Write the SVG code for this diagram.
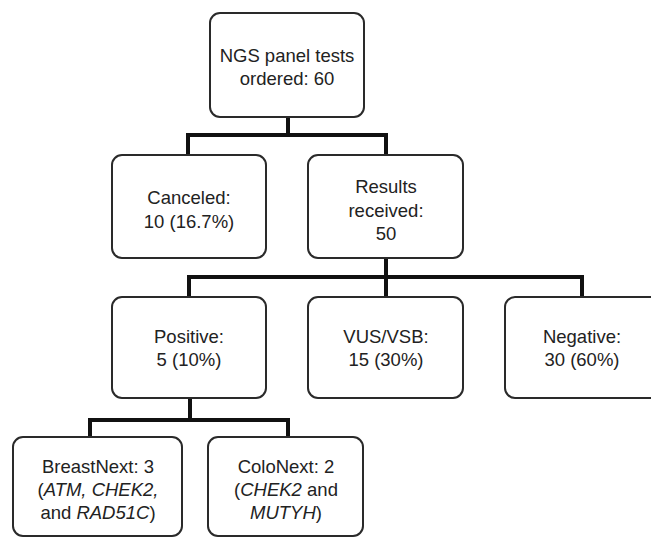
<svg xmlns="http://www.w3.org/2000/svg" width="651" height="538" viewBox="0 0 651 538">
<style>
.box{fill:#fff;stroke:#2a2a2a;stroke-width:2}
.t{font-family:"Liberation Sans",Arial,sans-serif;font-size:18.5px;fill:#222;text-anchor:middle}
.i{font-style:italic}
.c{fill:none;stroke:#111;stroke-width:4;stroke-linejoin:miter;stroke-linecap:butt}
</style>
<rect width="651" height="538" fill="#fff"/>
<g id="connectors">
<path class="c" d="M288 117V135M188 155V135H386V155"/>
<path class="c" d="M386 258V297M189 297V277H582V297"/>
<path class="c" d="M190 398V420M90 437V420H288V437"/>
</g>
<g id="n-top">
<rect class="box" x="210" y="13" width="154" height="104" rx="10"/>
<text class="t" x="287" y="62">NGS panel tests</text>
<text class="t" x="287" y="85">ordered: 60</text>
</g>
<g id="n-canceled">
<rect class="box" x="112" y="155" width="154" height="103" rx="10"/>
<text class="t" x="189" y="204">Canceled:</text>
<text class="t" x="189" y="228">10 (16.7%)</text>
</g>
<g id="n-results">
<rect class="box" x="308" y="155" width="155" height="103" rx="10"/>
<text class="t" x="386" y="193">Results</text>
<text class="t" x="386" y="217">received:</text>
<text class="t" x="386" y="240">50</text>
</g>
<g id="n-positive">
<rect class="box" x="112" y="297" width="154" height="101" rx="10"/>
<text class="t" x="189" y="343">Positive:</text>
<text class="t" x="189" y="366">5 (10%)</text>
</g>
<g id="n-vus">
<rect class="box" x="308" y="297" width="155" height="101" rx="10"/>
<text class="t" x="386" y="343">VUS/VSB:</text>
<text class="t" x="386" y="366">15 (30%)</text>
</g>
<g id="n-negative">
<rect class="box" x="505" y="297" width="155" height="101" rx="10"/>
<text class="t" x="582" y="343">Negative:</text>
<text class="t" x="582" y="366">30 (60%)</text>
</g>
<g id="n-breast">
<rect class="box" x="13" y="437" width="169" height="99" rx="10"/>
<text class="t" x="98" y="473">BreastNext: 3</text>
<text class="t" x="98" y="496">(<tspan class="i">ATM, CHEK2,</tspan></text>
<text class="t" x="98" y="519">and <tspan class="i">RAD51C</tspan>)</text>
</g>
<g id="n-colo">
<rect class="box" x="208" y="437" width="155" height="99" rx="10"/>
<text class="t" x="286" y="473">ColoNext: 2</text>
<text class="t" x="286" y="496">(<tspan class="i">CHEK2</tspan> and</text>
<text class="t" x="286" y="519"><tspan class="i">MUTYH</tspan>)</text>
</g>
</svg>
